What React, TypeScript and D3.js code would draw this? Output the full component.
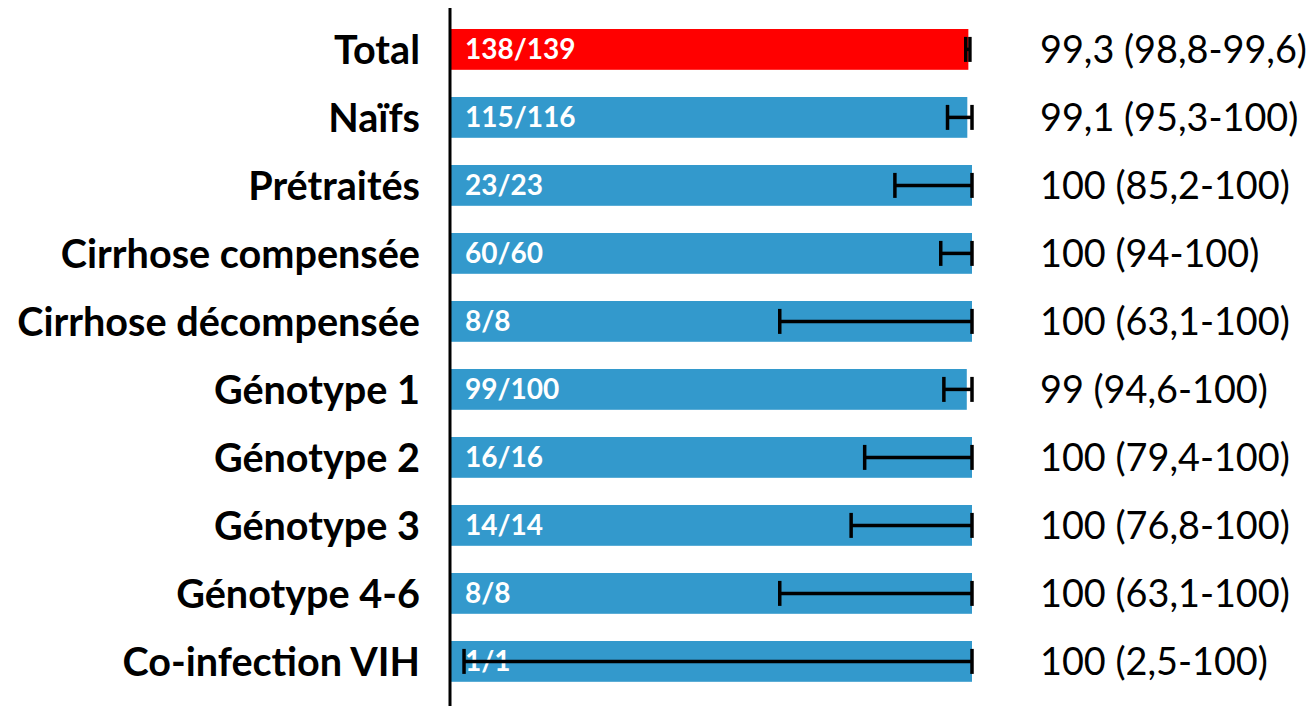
import { useEffect, useRef } from "react";
import * as d3 from "d3";

const categories = [
  "Total",
  "Naïfs",
  "Prétraités",
  "Cirrhose compensée",
  "Cirrhose décompensée",
  "Génotype 1",
  "Génotype 2",
  "Génotype 3",
  "Génotype 4-6",
  "Co-infection VIH",
];
const counts = ["138/139", "115/116", "23/23", "60/60", "8/8", "99/100", "16/16", "14/14", "8/8", "1/1"];
const values = [99.3, 99.1, 100, 100, 100, 99, 100, 100, 100, 100];
const lower = [98.8, 95.3, 85.2, 94, 63.1, 94.6, 79.4, 76.8, 63.1, 2.5];
const upper = [99.6, 100, 100, 100, 100, 100, 100, 100, 100, 100];
const ciLabels = [
  "99,3 (98,8-99,6)",
  "99,1 (95,3-100)",
  "100 (85,2-100)",
  "100 (94-100)",
  "100 (63,1-100)",
  "99 (94,6-100)",
  "100 (79,4-100)",
  "100 (76,8-100)",
  "100 (63,1-100)",
  "100 (2,5-100)",
];

const App = () => {
  const ref = useRef<SVGSVGElement>(null);

  useEffect(() => {
    const width = 1316;
    const height = 706;
    const svg = d3.select(ref.current).attr("width", width).attr("height", height);
    svg.selectAll("*").remove();

    const x = d3.scaleLinear().domain([0, 100]).range([451, 972]);
    const y = d3
      .scaleBand()
      .domain(categories)
      .range([8.6, 702.2])
      .paddingInner(0.4)
      .paddingOuter(0.3);

    const rows = categories.map((c, i) => ({
      c,
      i,
      v: values[i],
      lo: lower[i],
      hi: upper[i],
      n: counts[i],
      ci: ciLabels[i],
    }));

    // bars
    svg
      .selectAll("rect.bar")
      .data(rows)
      .enter()
      .append("rect")
      .attr("class", "bar")
      .attr("x", x(0))
      .attr("y", (d) => y(d.c)!)
      .attr("width", (d) => x(d.v) - x(0))
      .attr("height", y.bandwidth())
      .attr("fill", (d) => (d.i === 0 ? "#ff0000" : "#3399cc"));

    // count labels in bars
    svg
      .selectAll("text.count")
      .data(rows)
      .enter()
      .append("text")
      .attr("class", "count")
      .attr("x", 465)
      .attr("y", (d) => y(d.c)! + y.bandwidth() / 2)
      .attr("dy", "0.36em")
      .style("font-family", "Lato, sans-serif")
      .style("font-weight", "700")
      .style("font-size", "28px")
      .style("fill", "#fff")
      .text((d) => d.n);

    // error bars
    const err = svg.append("g").attr("stroke", "#000").attr("stroke-width", 3.5);
    rows.forEach((d) => {
      const cy = y(d.c)! + y.bandwidth() / 2;
      err.append("line").attr("x1", x(d.lo)).attr("x2", x(d.hi)).attr("y1", cy).attr("y2", cy);
      [d.lo, d.hi].forEach((v) => {
        err
          .append("line")
          .attr("x1", x(v))
          .attr("x2", x(v))
          .attr("y1", cy - 12.5)
          .attr("y2", cy + 12.5);
      });
    });

    // axis line
    svg
      .append("line")
      .attr("x1", 450)
      .attr("x2", 450)
      .attr("y1", 8)
      .attr("y2", height)
      .attr("stroke", "#000")
      .attr("stroke-width", 3);

    // category labels
    svg
      .selectAll("text.cat")
      .data(rows)
      .enter()
      .append("text")
      .attr("class", "cat")
      .attr("x", 420)
      .attr("y", (d) => y(d.c)! + y.bandwidth() / 2)
      .attr("dy", "0.36em")
      .attr("text-anchor", "end")
      .style("font-family", "Lato, sans-serif")
      .style("font-weight", "700")
      .style("font-size", "39.6px")
      .style("fill", "#000")
      .text((d) => d.c);

    // CI labels
    svg
      .selectAll("text.ci")
      .data(rows)
      .enter()
      .append("text")
      .attr("class", "ci")
      .attr("x", 1040)
      .attr("y", (d) => y(d.c)! + y.bandwidth() / 2)
      .attr("dy", "0.36em")
      .style("font-family", "Lato, sans-serif")
      .style("font-size", "37.8px")
      .style("fill", "#000")
      .text((d) => d.ci);
  }, []);

  return (
    <div style={{ position: "absolute", left: 0, top: 0 }}>
      <svg ref={ref} style={{ display: "block" }}></svg>
    </div>
  );
};

export default App;
